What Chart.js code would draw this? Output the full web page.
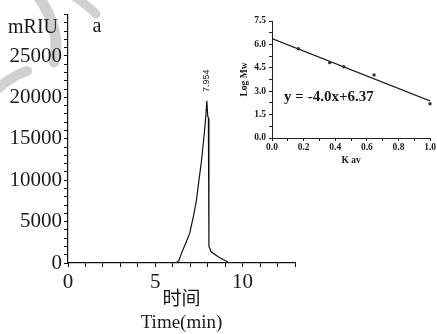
<!DOCTYPE html>
<html>
<head>
<meta charset="utf-8">
<script src="https://cdn.jsdelivr.net/npm/chart.js@4/dist/chart.umd.min.js"></script>
<style>
    html, body { margin: 0; padding: 0; background: #fff; }
    #wrap { position: relative; width: 437px; height: 334px; }
    #mainChart { position: absolute; left: 0; top: 0; }
    #insetChart { position: absolute; left: 232px; top: 5px; }
</style>
</head>
<body>
<div id="wrap">
    <canvas id="mainChart" width="437" height="334"></canvas>
    <canvas id="insetChart" width="205" height="165"></canvas>
</div>
<script>
// ============================================================
// Cromatograma GPC + curva de calibración (inset)
// ============================================================

// Datos del cromatograma (tiempo en min, señal en mRIU)
const timeMin = [6.2, 6.35, 6.57, 6.8, 6.97, 7.2, 7.35, 7.5, 7.64, 7.75, 7.83, 7.9, 7.95, 8.0, 8.04, 8.07, 8.2, 8.6, 9.15];
const signal  = [0, 300, 1550, 2700, 3570, 5800, 7500, 10000, 12260, 14500, 16200, 18000, 19600, 17800, 17500, 2000, 1350, 750, 120];

const peakTime = 7.954;
const peakSignal = 19600;
const peakLabel = "7.954";

const xTitle = ["时间", "Time(min)"];
const yUnit = "mRIU";
const panelTag = "a";

// Datos de calibración (inset)
const kav   = [0.167, 0.365, 0.454, 0.646, 1.0];
const logMw = [5.72, 4.83, 4.57, 4.04, 2.2];
const fitKav = [0, 1.0];
const fitLogMw = [6.37, 2.37];
const fitLabel = "y = -4.0x+6.37";

const serif = "'Liberation Serif', 'Noto Sans CJK SC', serif";

// ------------------------------------------------------------
// Marca de agua gris y textos del gráfico principal
// ------------------------------------------------------------
const mainDecor = {
    id: "mainDecor",
    beforeDraw(chart) {
        const c = chart.ctx;
        c.save();
        c.strokeStyle = "#d0d0d0";
        c.lineCap = "round";
        c.lineWidth = 11;
        c.beginPath();
        c.moveTo(38, -4);
        c.quadraticCurveTo(62, 30, 54, 62);
        c.stroke();
        c.lineWidth = 9;
        c.beginPath();
        c.moveTo(74, -4);
        c.quadraticCurveTo(88, 6, 96, 14);
        c.stroke();
        c.lineWidth = 10;
        c.beginPath();
        c.moveTo(-4, 90);
        c.quadraticCurveTo(12, 76, 27, 71);
        c.stroke();
        c.restore();
    },
    afterDraw(chart) {
        const c = chart.ctx;
        const xs = chart.scales.x, ys = chart.scales.y;
        c.save();
        c.fillStyle = "#1a1a1a";
        c.font = "20px " + serif;
        c.textAlign = "center";
        c.textBaseline = "middle";
        c.fillText(yUnit, 33, 28);
        c.fillText(panelTag, 97, 27);

        // etiqueta del pico, rotada
        c.translate(xs.getPixelForValue(peakTime), ys.getPixelForValue(peakSignal) - 20);
        c.rotate(-Math.PI / 2);
        c.font = "9px 'Liberation Sans', sans-serif";
        c.fillText(peakLabel, 0, 0);
        c.restore();
    }
};

new Chart(document.getElementById("mainChart"), {
    type: "scatter",
    data: {
        datasets: [{
            data: timeMin.map((t, i) => ({ x: t, y: signal[i] })),
            showLine: true,
            borderColor: "#111",
            borderWidth: 1.2,
            pointRadius: 0,
            tension: 0
        }]
    },
    options: {
        responsive: false,
        animation: false,
        devicePixelRatio: 1,
        layout: { padding: { top: 11, right: 142, left: 0, bottom: 0 } },
        plugins: { legend: { display: false }, tooltip: { enabled: false } },
        scales: {
            x: {
                type: "linear",
                min: 0,
                max: 13,
                afterFit: s => { s.height = 71; },
                border: { display: true, color: "#111", width: 1.2 },
                grid: { drawOnChartArea: false, drawTicks: true, tickLength: 4, color: "#111" },
                ticks: {
                    stepSize: 1,
                    autoSkip: false,
                    maxRotation: 0,
                    padding: 3,
                    color: "#1a1a1a",
                    font: { family: serif, size: 21 },
                    callback: v => (v % 5 === 0 && v < 13) ? v : ""
                },
                title: {
                    display: true,
                    text: xTitle,
                    color: "#1a1a1a",
                    font: { family: serif, size: 19 },
                    padding: { top: 0, bottom: 0 }
                }
            },
            y: {
                min: 0,
                max: 30000,
                afterFit: s => { s.width = 68; },
                border: { display: true, color: "#111", width: 1.2 },
                grid: { drawOnChartArea: false, drawTicks: true, tickLength: 4, color: "#111" },
                ticks: {
                    stepSize: 1000,
                    autoSkip: false,
                    padding: 2,
                    color: "#1a1a1a",
                    font: { family: serif, size: 21 },
                    callback: v => (v % 5000 === 0 && v < 30000) ? v : ""
                }
            }
        }
    },
    plugins: [mainDecor]
});

// ------------------------------------------------------------
// Inset: Log Mw vs Kav
// ------------------------------------------------------------
const insetDecor = {
    id: "insetDecor",
    afterDraw(chart) {
        const c = chart.ctx;
        c.save();
        c.fillStyle = "#1a1a1a";
        c.font = "bold 15px " + serif;
        c.textAlign = "center";
        c.textBaseline = "middle";
        c.fillText(fitLabel, chart.scales.x.getPixelForValue(0.36), chart.scales.y.getPixelForValue(2.63));
        c.restore();
    }
};

const insetFont = { family: serif, size: 9.5, weight: "bold" };

new Chart(document.getElementById("insetChart"), {
    type: "scatter",
    data: {
        datasets: [
            {
                data: kav.map((k, i) => ({ x: k, y: logMw[i] })),
                pointRadius: 1.7,
                pointBackgroundColor: "#333",
                pointBorderWidth: 0,
                clip: false
            },
            {
                data: fitKav.map((k, i) => ({ x: k, y: fitLogMw[i] })),
                showLine: true,
                borderColor: "#1a1a1a",
                borderWidth: 1.2,
                pointRadius: 0
            }
        ]
    },
    options: {
        responsive: false,
        animation: false,
        devicePixelRatio: 1,
        layout: { padding: { top: 16, right: 5, left: 0, bottom: 0 } },
        plugins: { legend: { display: false }, tooltip: { enabled: false } },
        scales: {
            x: {
                type: "linear",
                min: 0,
                max: 1.0,
                afterFit: s => { s.height = 32; },
                border: { display: true, color: "#222", width: 1 },
                grid: { drawOnChartArea: false, tickLength: 3, color: "#222" },
                ticks: {
                    stepSize: 0.1,
                    autoSkip: false,
                    maxRotation: 0,
                    padding: 1,
                    color: "#1a1a1a",
                    font: insetFont,
                    callback: v => (Math.round(v * 10) % 2 === 0) ? v.toFixed(1) : ""
                },
                title: {
                    display: true,
                    text: "K av",
                    color: "#1a1a1a",
                    font: insetFont,
                    padding: { top: 0, bottom: 4 }
                }
            },
            y: {
                min: 0,
                max: 7.5,
                afterFit: s => { s.width = 40; },
                border: { display: true, color: "#222", width: 1 },
                grid: { drawOnChartArea: false, tickLength: 3, color: "#222" },
                ticks: {
                    stepSize: 0.75,
                    autoSkip: false,
                    padding: 3,
                    color: "#1a1a1a",
                    font: insetFont,
                    callback: v => (Math.abs(v / 1.5 - Math.round(v / 1.5)) < 1e-6) ? v.toFixed(1) : ""
                },
                title: {
                    display: true,
                    text: "Log Mw",
                    color: "#1a1a1a",
                    font: insetFont,
                    padding: { top: 7, bottom: 0 }
                }
            }
        }
    },
    plugins: [insetDecor]
});
</script>
</body>
</html>
